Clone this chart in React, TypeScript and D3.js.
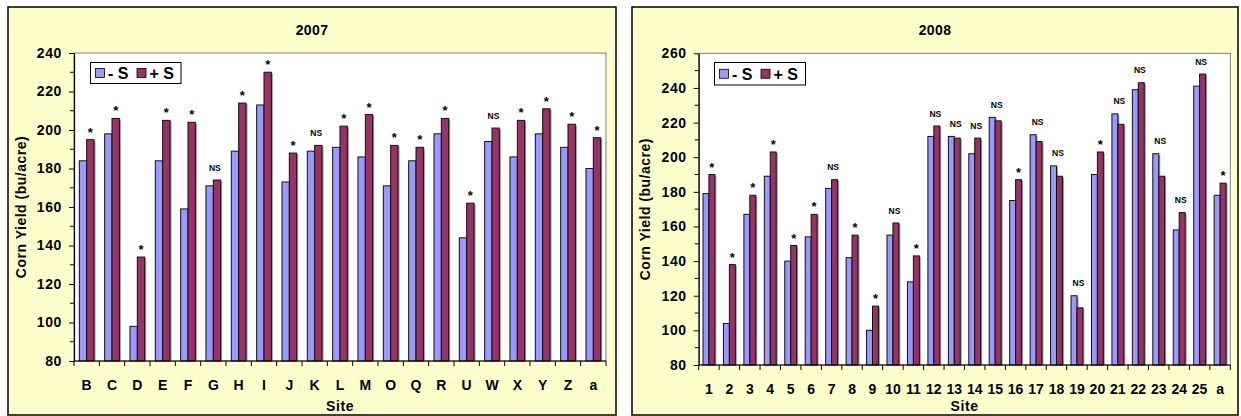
import React, { useEffect, useRef } from "react";
import * as d3 from "d3";

// 2007 sites
const sites2007 = ["B", "C", "D", "E", "F", "G", "H", "I", "J", "K", "L", "M", "O", "Q", "R", "U", "W", "X", "Y", "Z", "a"];
const minusS2007 = [184, 198, 98, 184, 159, 171, 189, 213, 173, 189, 191, 186, 171, 184, 198, 144, 194, 186, 198, 191, 180];
const plusS2007 = [195, 206, 134, 205, 204, 174, 214, 230, 188, 192, 202, 208, 192, 191, 206, 162, 201, 205, 211, 203, 196];
const sig2007 = ["*", "*", "*", "*", "*", "NS", "*", "*", "*", "NS", "*", "*", "*", "*", "*", "*", "NS", "*", "*", "*", "*"];

// 2008 sites
const sites2008 = ["1", "2", "3", "4", "5", "6", "7", "8", "9", "10", "11", "12", "13", "14", "15", "16", "17", "18", "19", "20", "21", "22", "23", "24", "25", "a"];
const minusS2008 = [179, 104, 167, 189, 140, 154, 182, 142, 100, 155, 128, 212, 212, 202, 223, 175, 213, 195, 120, 190, 225, 239, 202, 158, 241, 178];
const plusS2008 = [190, 138, 178, 203, 149, 167, 187, 155, 114, 162, 143, 218, 211, 211, 221, 187, 209, 189, 113, 203, 219, 243, 189, 168, 248, 185];
const sig2008 = ["*", "*", "*", "*", "*", "*", "NS", "*", "*", "NS", "*", "NS", "NS", "NS", "NS", "*", "NS", "NS", "NS", "*", "NS", "NS", "NS", "NS", "NS", "*"];

const seriesNames = ["- S", "+ S"];

const FONT = "'Liberation Sans', Arial, Helvetica, sans-serif";
const BLUE = "#9999FF";
const RED = "#993366";

const Panel = ({ title, sites, minus, plus, sig, yMax, frame, plot, legend }) => {
  const ref = useRef(null);

  useEffect(() => {
    const g = d3.select(ref.current);
    g.selectAll("*").remove();

    // chart area
    g.append("rect")
      .attr("x", frame.x)
      .attr("y", frame.y)
      .attr("width", frame.w)
      .attr("height", frame.h)
      .attr("fill", "#FFFFCC")
      .attr("stroke", "#000")
      .attr("stroke-width", 1.5);

    g.append("text")
      .attr("x", frame.x + frame.w / 2)
      .attr("y", 35)
      .attr("text-anchor", "middle")
      .style("font", `bold 14px ${FONT}`)
      .style("letter-spacing", "0.4px")
      .text(title);

    // plot area
    g.append("rect")
      .attr("x", plot.x0)
      .attr("y", plot.y0)
      .attr("width", plot.x1 - plot.x0)
      .attr("height", plot.y1 - plot.y0)
      .attr("fill", "#fff")
      .attr("stroke", "#808080")
      .attr("stroke-width", 1);

    const x = d3.scaleBand().domain(sites).range([plot.x0, plot.x1]);
    const y = d3.scaleLinear().domain([80, yMax]).range([plot.y1, plot.y0]);
    const bw = x.bandwidth();
    const barW = bw * 0.29;

    const rows = sites.map((s, i) => ({ s, a: minus[i], b: plus[i], sig: sig[i] }));

    // bars, with a little grey shadow on the right
    const bars = g.append("g");
    rows.forEach((d) => {
      const cx = x(d.s) + bw / 2;
      [
        { v: d.a, x0: cx - barW, c: BLUE },
        { v: d.b, x0: cx, c: RED },
      ].forEach((b) => {
        bars.append("rect")
          .attr("x", b.x0 + 1.5)
          .attr("y", y(b.v) + 1)
          .attr("width", barW)
          .attr("height", y(80) - y(b.v) - 1)
          .attr("fill", "#9a9a9a");
        bars.append("rect")
          .attr("x", b.x0)
          .attr("y", y(b.v))
          .attr("width", barW)
          .attr("height", y(80) - y(b.v))
          .attr("fill", b.c)
          .attr("stroke", "#111")
          .attr("stroke-width", 1);
      });
    });

    // significance labels
    g.append("g")
      .selectAll("text")
      .data(rows)
      .enter()
      .append("text")
      .attr("x", (d) => x(d.s) + bw / 2 + (d.sig === "*" ? barW / 2 : 1.5))
      .attr("y", (d) => y(Math.max(d.a, d.b)) - (d.sig === "*" ? 3 : 9.5))
      .attr("text-anchor", "middle")
      .style("font", (d) => (d.sig === "*" ? `bold 13px ${FONT}` : `bold 8.5px ${FONT}`))
      .text((d) => d.sig);

    // y axis
    const yAxis = g.append("g")
      .attr("transform", `translate(${plot.x0},0)`)
      .call(
        d3.axisLeft(y)
          .tickValues(d3.range(80, yMax + 1, 20))
          .tickSize(5)
          .tickSizeOuter(0)
          .tickPadding(7)
          .tickFormat(d3.format("d"))
      );
    yAxis.select(".domain").attr("stroke", "#000").attr("stroke-width", 1.2);
    yAxis.selectAll(".tick line").attr("stroke", "#000");
    yAxis.selectAll(".tick text")
      .attr("fill", "#000")
      .style("font", `bold 14px ${FONT}`)
      .style("letter-spacing", "0.6px");
    g.append("g")
      .selectAll("line")
      .data(d3.range(90, yMax, 20))
      .enter()
      .append("line")
      .attr("x1", plot.x0 - 4)
      .attr("x2", plot.x0)
      .attr("y1", (d) => y(d))
      .attr("y2", (d) => y(d))
      .attr("stroke", "#000");

    // x axis
    g.append("line")
      .attr("x1", plot.x0)
      .attr("x2", plot.x1)
      .attr("y1", plot.y1)
      .attr("y2", plot.y1)
      .attr("stroke", "#000")
      .attr("stroke-width", 1.2);
    g.append("g")
      .selectAll("line")
      .data(sites.concat(["end"]))
      .enter()
      .append("line")
      .attr("x1", (d, i) => plot.x0 + i * bw)
      .attr("x2", (d, i) => plot.x0 + i * bw)
      .attr("y1", plot.y1)
      .attr("y2", plot.y1 + 5)
      .attr("stroke", "#000");
    g.append("g")
      .selectAll("text")
      .data(sites)
      .enter()
      .append("text")
      .attr("x", (d) => x(d) + bw / 2)
      .attr("y", plot.y1 + 29)
      .attr("text-anchor", "middle")
      .style("font", `bold 14px ${FONT}`)
      .text((d) => d);

    g.append("text")
      .attr("x", (plot.x0 + plot.x1) / 2)
      .attr("y", 411)
      .attr("text-anchor", "middle")
      .style("font", `bold 14px ${FONT}`)
      .style("letter-spacing", "0.6px")
      .text("Site");

    g.append("text")
      .attr("transform", `translate(${frame.x + 18},${(plot.y0 + plot.y1) / 2}) rotate(-90)`)
      .attr("text-anchor", "middle")
      .style("font", `bold 14px ${FONT}`)
      .style("letter-spacing", "0.5px")
      .text("Corn Yield (bu/acre)");

    // legend
    const lg = g.append("g").attr("transform", `translate(${legend.x},${legend.y})`);
    lg.append("rect")
      .attr("width", legend.w)
      .attr("height", legend.h)
      .attr("fill", "#fff")
      .attr("stroke", "#000");
    seriesNames.forEach((name, i) => {
      const off = 5 + i * 41.5;
      lg.append("rect")
        .attr("x", off)
        .attr("y", legend.h / 2 - 4.5)
        .attr("width", 9)
        .attr("height", 9)
        .attr("fill", i === 0 ? BLUE : RED)
        .attr("stroke", "#000")
        .attr("stroke-width", 0.8);
      lg.append("text")
        .attr("x", off + 12.5)
        .attr("y", legend.h / 2 + 6)
        .style("font", `bold 16px ${FONT}`)
        .text(name);
    });
  }, []);

  return <g ref={ref} />;
};

export default function App() {
  return (
    <svg
      width={1241}
      height={416}
      style={{ position: "absolute", left: 0, top: 0, display: "block", background: "#fff" }}
    >
      <Panel
        title="2007"
        sites={sites2007}
        minus={minusS2007}
        plus={plusS2007}
        sig={sig2007}
        yMax={240}
        frame={{ x: 8, y: 7, w: 608, h: 408 }}
        plot={{ x0: 74, x1: 606, y0: 53, y1: 361 }}
        legend={{ x: 90.5, y: 62.5, w: 90.5, h: 21 }}
      />
      <Panel
        title="2008"
        sites={sites2008}
        minus={minusS2008}
        plus={plusS2008}
        sig={sig2008}
        yMax={260}
        frame={{ x: 632, y: 7, w: 606, h: 408 }}
        plot={{ x0: 698.7, x1: 1230.3, y0: 53.3, y1: 365 }}
        legend={{ x: 714.5, y: 62.5, w: 91, h: 22.5 }}
      />
    </svg>
  );
}
